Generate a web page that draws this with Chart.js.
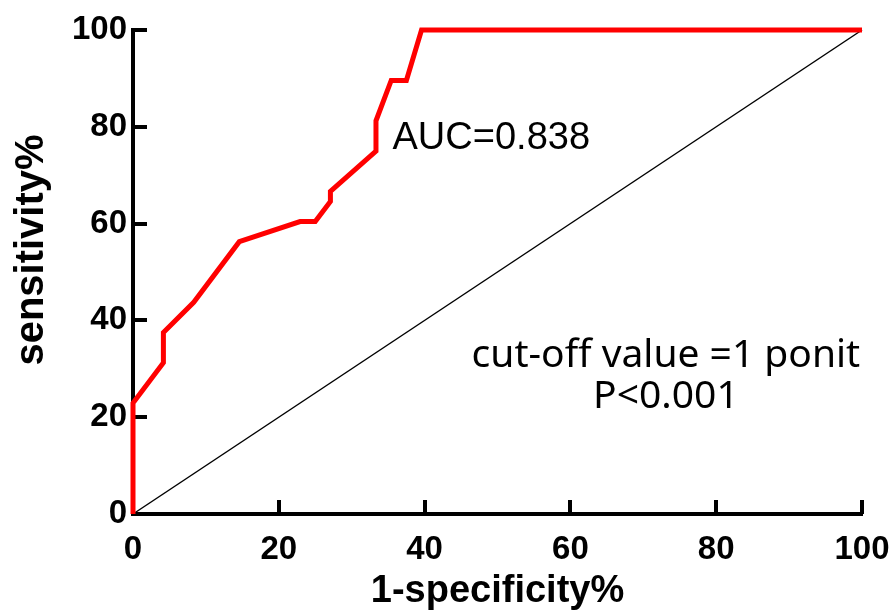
<!DOCTYPE html>
<html>
<head>
    <title>ROC curve</title>
    <script src="https://cdn.jsdelivr.net/npm/chart.js"></script>
</head>
<body style="margin: 0; background: #fff">
<div style="width: 893px; height: 613px">
    <canvas id="chart"></canvas>
</div>
<script>
    // ROC points (1-specificity %, sensitivity %)
    var fpr = [0, 0, 4.17, 4.17, 8.33, 14.58, 22.92, 25.0, 27.08, 27.08, 33.33, 33.33, 35.42, 37.5, 39.58, 100];
    var tpr = [0, 22.92, 31.25, 37.5, 43.75, 56.25, 60.42, 60.42, 64.58, 66.67, 75.0, 81.25, 89.58, 89.58, 100, 100];
    var refX = [0, 100];
    var refY = [0, 100];
    var axisTicks = [0, 20, 40, 60, 80, 100];
    var xTitle = '1-specificity%';
    var yTitle = 'sensitivity%';
    var aucLabel = 'AUC=0.838';
    var cutoffLabel = 'cut-off value =1 ponit';
    var pLabel = 'P<0.001';

    function toPoints(xs, ys) {
        return xs.map(function (x, i) { return {x: x, y: ys[i]}; });
    }

    var sans = '"Liberation Sans", Arial, sans-serif';

    // inward tick marks, annotations and axis titles
    var textPlugin = {
        id: 'textPlugin',
        beforeDatasetsDraw: function (chart) {
            var ctx = chart.ctx, xs = chart.scales.x, ys = chart.scales.y, a = chart.chartArea;
            ctx.save();
            ctx.fillStyle = '#000';
            axisTicks.forEach(function (v) {
                var px = Math.round(xs.getPixelForValue(v)), py = Math.round(ys.getPixelForValue(v));
                ctx.fillRect(px - 2, a.bottom - 14, 4, 14);
                ctx.fillRect(a.left, py - 2, 14, 4);
            });
            ctx.restore();
        },
        afterDraw: function (chart) {
            var ctx = chart.ctx, xs = chart.scales.x, ys = chart.scales.y, a = chart.chartArea;
            ctx.save();
            ctx.fillStyle = '#000';
            ctx.textBaseline = 'alphabetic';
            ctx.font = '38px ' + sans;
            ctx.textAlign = 'left';
            ctx.fillText(aucLabel, xs.getPixelForValue(35.6), ys.getPixelForValue(75.4));
            ctx.font = '39px "Noto Sans", "Open Sans", sans-serif';
            ctx.textAlign = 'center';
            ctx.fillText(cutoffLabel, xs.getPixelForValue(73.1), ys.getPixelForValue(30.4));
            ctx.fillText(pLabel, xs.getPixelForValue(73.1), ys.getPixelForValue(21.9));
            ctx.font = 'bold 38px ' + sans;
            ctx.fillText(xTitle, (a.left + a.right) / 2, chart.height - 11);
            ctx.font = 'bold 40px ' + sans;
            ctx.translate(43, 250);
            ctx.rotate(-Math.PI / 2);
            ctx.fillText(yTitle, 0, 0);
            ctx.restore();
        }
    };

    function axis(fit, pad) {
        return {
            type: 'linear',
            min: 0,
            max: 100,
            afterBuildTicks: function (s) { s.ticks = axisTicks.map(function (v) { return {value: v}; }); },
            afterFit: function (s) {
                fit(s);
                s.paddingLeft = 0;
                s.paddingRight = 0;
                s.paddingTop = 0;
                s.paddingBottom = 0;
            },
            ticks: {
                color: '#000',
                font: {family: sans, size: 33, weight: 'bold'},
                padding: pad,
                maxRotation: 0
            },
            grid: {drawOnChartArea: false, drawTicks: false},
            border: {display: true, color: '#000', width: 4}
        };
    }

    var ctx = document.getElementById('chart').getContext('2d');
    var roc_chart = new Chart(ctx, {
        type: 'scatter',
        data: {
            datasets: [{
                label: 'ROC',
                data: toPoints(fpr, tpr),
                showLine: true,
                borderColor: 'rgb(255, 0, 0)',
                borderWidth: 5,
                pointRadius: 0,
                tension: 0,
                clip: false
            }, {
                label: 'reference',
                data: toPoints(refX, refY),
                showLine: true,
                borderColor: '#000',
                borderWidth: 1.5,
                pointRadius: 0,
                clip: false
            }]
        },
        options: {
            responsive: true,
            maintainAspectRatio: false,
            animation: false,
            layout: {padding: {top: 30, right: 31, left: 0, bottom: 0}},
            plugins: {
                legend: {display: false},
                tooltip: {enabled: false}
            },
            scales: {
                x: axis(function (s) { s.height = 99; }, 16),
                y: axis(function (s) { s.width = 133; }, 6)
            }
        },
        plugins: [textPlugin]
    });
</script>
</body>
</html>
